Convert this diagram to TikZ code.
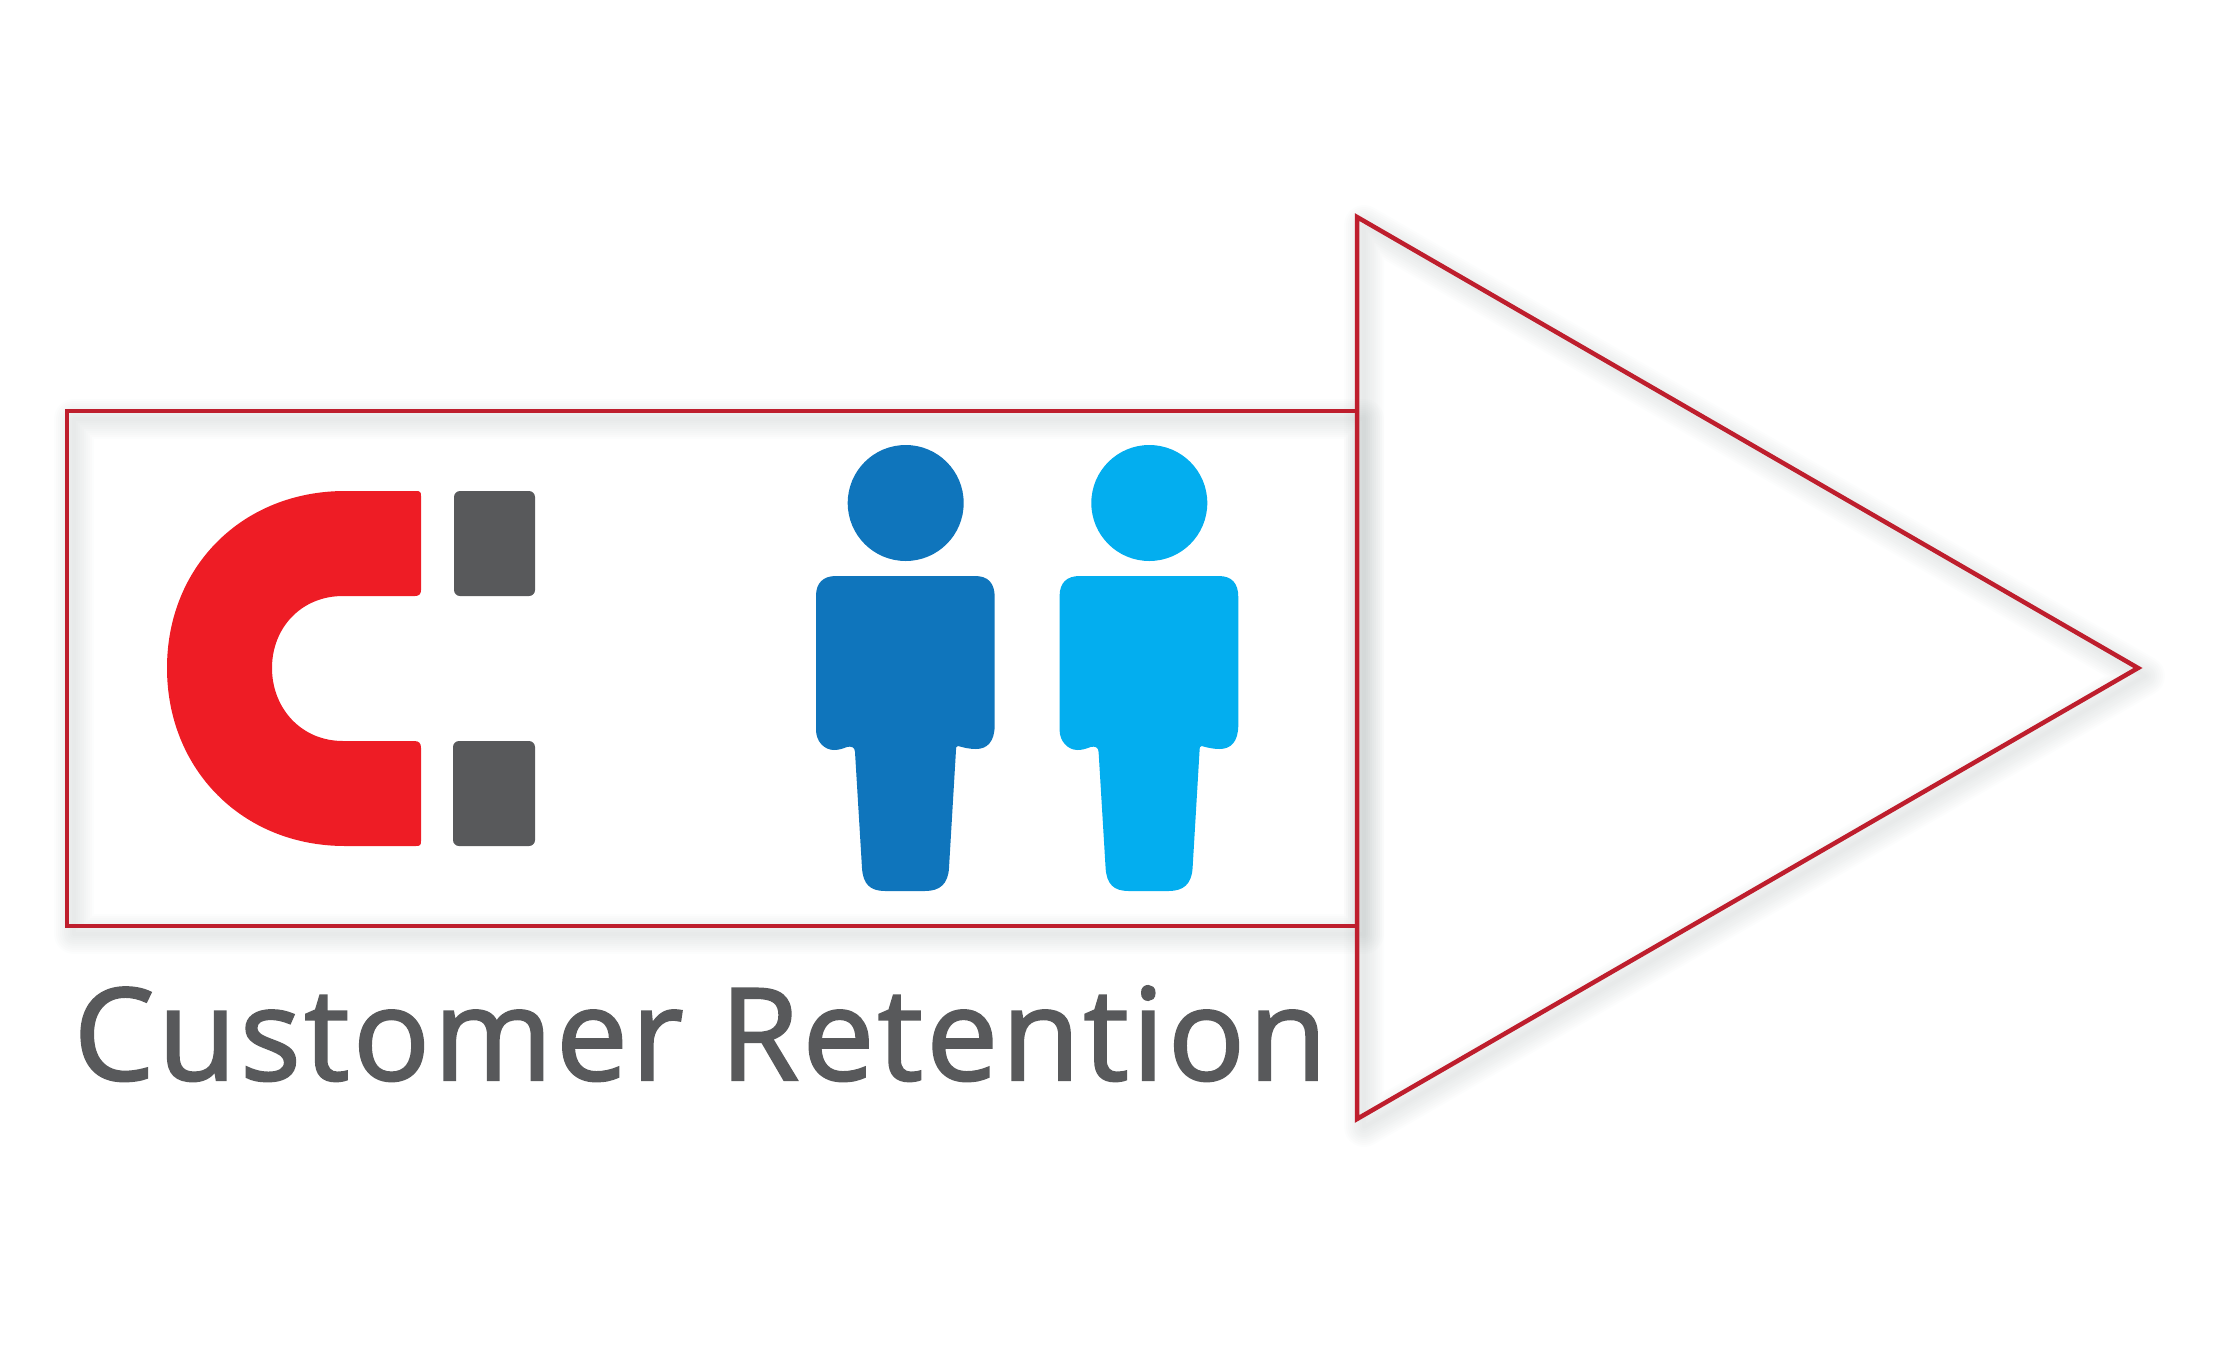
\documentclass[tikz,border=0pt]{standalone}
\usepackage{fontspec}
\newfontfamily\captionfont[LetterSpace=2.65,FakeBold=1.8]{Open Sans}
\definecolor{framered}{HTML}{BE1E2D}
\definecolor{magnetred}{HTML}{EE1C25}
\definecolor{polegray}{HTML}{58595B}
\definecolor{darkperson}{HTML}{0F75BC}
\definecolor{lightperson}{HTML}{03AEEF}
\definecolor{glowgray}{HTML}{7F8C8C}
\tikzset{
    frameline/.style={draw=framered, line width=0.045cm, miter limit=10},
    polebox/.style={fill=polegray, rounded corners=0.06cm},
    person/.pic={
        \fill[#1] (905.7,503) circle (58);
        \fill[#1] (836,576) -- (975,576)
            .. controls (988,576) and (994.7,583) .. (994.7,597)
            -- (994.7,725)
            .. controls (994.7,742) and (987,749) .. (976,749)
            .. controls (968,749) and (962,747) .. (958,746)
            .. controls (956,746) and (956,748) .. (956,750)
            -- (949,868)
            .. controls (948,884) and (940,891) .. (925,891)
            -- (885,891)
            .. controls (870,891) and (863,884) .. (862,868)
            -- (855,752)
            .. controls (855,747) and (851,746) .. (847,747)
            .. controls (842,749) and (838,750) .. (834,750)
            .. controls (824,750) and (816,741) .. (816,730)
            -- (816,596)
            .. controls (816,583) and (823,576) .. (836,576) -- cycle;
    }
}
\newcommand{\glowpath}[2]{
    \foreach \w in {4,8,...,40} {
        \draw[glowgray, opacity=#1, line width=\w*0.01cm, line join=round, shift={(7,8)}] #2;
    }
}
\begin{document}
\begin{tikzpicture}[x=0.01cm, y=-0.01cm]
    \useasboundingbox (0,0) rectangle (2220,1348);

    % Soft shadows
    \glowpath{0.018}{(1357,217) -- (2138,668) -- (1357,1119) -- cycle}
    \glowpath{0.018}{(67,411) rectangle (1357,926)}

    % Arrow and box
    \draw[frameline] (1357,217) -- (2138,668) -- (1357,1119) -- cycle;
    \draw[frameline] (67,411) rectangle (1357,926);

    % Magnet
    \fill[magnetred] (345,491) -- (416,491)
        .. controls (420,491) and (421,492) .. (421,496)
        -- (421,590)
        .. controls (421,594) and (419,596) .. (415,596)
        -- (343,596)
        .. controls (301,596) and (272,628) .. (272,668)
        .. controls (272,708) and (301,741) .. (343,741)
        -- (414,741)
        .. controls (419,741) and (421,743) .. (421,748)
        -- (421,841)
        .. controls (421,845) and (420,846) .. (416,846)
        -- (345,846)
        .. controls (243,846) and (167,770) .. (167,668)
        .. controls (167,566) and (243,491) .. (345,491) -- cycle;
    \fill[polebox] (454,491) rectangle (535,596);
    \fill[polebox] (453,741) rectangle (535,846);

    % People
    \pic {person={darkperson}};
    \pic at (243.6,0) {person={lightperson}};

    % Caption
    \node[anchor=base west, inner sep=0pt, text=polegray, font=\captionfont\fontsize{36.4pt}{44pt}\selectfont] (caption) at (73,1080) {Customer Retention};
\end{tikzpicture}
\end{document}
